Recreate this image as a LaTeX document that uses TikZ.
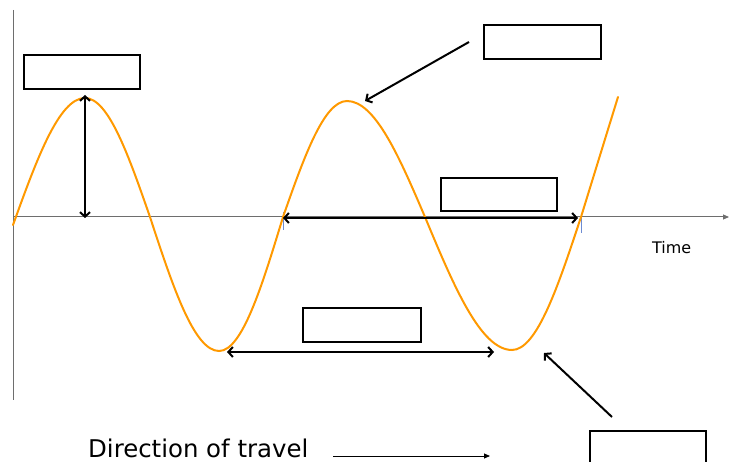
\documentclass[tikz,border=0pt]{standalone}
\usepackage{fontspec}
\setmainfont{DejaVu Sans}
\usetikzlibrary{arrows.meta}
\definecolor{wave}{RGB}{255,153,0}
\definecolor{axisgray}{RGB}{110,110,110}
\definecolor{tickblue}{RGB}{110,140,210}
\begin{document}
\begin{tikzpicture}[x=1bp,y=-1bp,
  lblbox/.style={draw=black,line width=2bp,inner sep=0pt,anchor=north west,minimum width=116bp,minimum height=34bp},
  barb/.style={line width=2bp,-{Straight Barb[length=4.5bp,width=10bp]}},
  dbarb/.style={line width=2bp,{Straight Barb[length=4.5bp,width=10bp]}-{Straight Barb[length=4.5bp,width=10bp]}},
  axisline/.style={axisgray,line width=1bp},
  txt/.style={inner sep=0pt,anchor=base west,text=black}]
\useasboundingbox (0,0) rectangle (732,462);
% axes
\coordinate (ytop) at (13,10);
\coordinate (ybot) at (13,400);
\coordinate (xl) at (13,217);
\coordinate (xr) at (729,217);
\draw[axisline] (ytop) -- (ybot);
\draw[axisline,-{Triangle[length=6bp,width=5bp]}] (xl) -- (xr);
% ticks
\coordinate (t1a) at (283,212); \coordinate (t1b) at (283,230);
\coordinate (t2a) at (581,213); \coordinate (t2b) at (581,233);
\draw[tickblue,line width=0.6bp] (t1a) -- (t1b);
\draw[tickblue,line width=0.6bp] (t2a) -- (t2b);
% wave
\draw[wave,line width=2bp,line cap=round] (13,225) sin (85,98) cos (150,217) sin (219,351) cos (283,217) sin (347,101) cos (425,217) sin (512,350) cos (581,217) -- (618,97);
% boxes
\node[lblbox] (b1) at (23,54) {};
\node[lblbox,minimum width=117bp] (b2) at (483,24) {};
\node[lblbox,minimum height=33bp] (b3) at (440,177) {};
\node[lblbox,minimum width=118bp] (b4) at (302,307) {};
\node[lblbox,minimum height=40bp] (b5) at (589,430) {};
% arrows
\coordinate (a1t) at (85,95); \coordinate (a1b) at (85,218);
\draw[dbarb] (a1b) -- (a1t);
\coordinate (a2s) at (469,42); \coordinate (a2e) at (365,101);
\draw[barb] (a2s) -- (a2e);
\coordinate (a3l) at (283,218); \coordinate (a3r) at (578,218);
\draw[dbarb] (a3l) -- (a3r);
\coordinate (a4l) at (227,352); \coordinate (a4r) at (494,352);
\draw[dbarb] (a4l) -- (a4r);
\coordinate (a5s) at (612,417); \coordinate (a5e) at (544,353);
\draw[barb] (a5s) -- (a5e);
% texts
\node[txt,font=\fontsize{16}{18}\selectfont] (time) at (652,254) {Time};
\node[txt,font=\fontsize{24.5}{26}\selectfont] (dir) at (88,457) {Direction of travel};
\coordinate (ds) at (333,456); \coordinate (de) at (490,456);
\draw[line width=0.8bp,-{Triangle[length=6bp,width=5bp]}] (ds) -- (de);
\end{tikzpicture}
\end{document}
